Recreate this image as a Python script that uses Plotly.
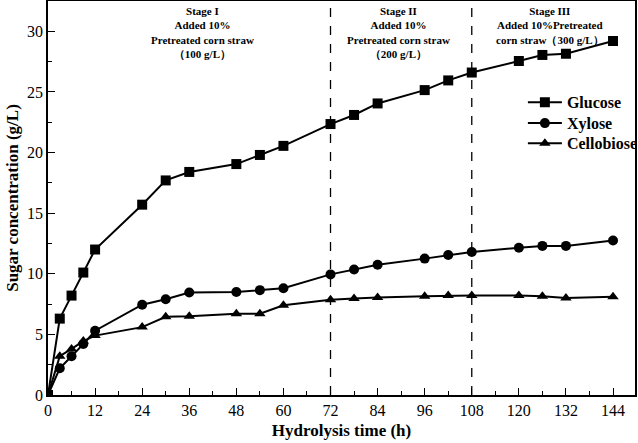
import plotly.graph_objects as go

time_h = [0, 3, 6, 9, 12, 24, 30, 36, 48, 54, 60, 72, 78, 84, 96, 102, 108, 120, 126, 132, 144]
glucose = [0, 6.3, 8.2, 10.1, 12.0, 15.7, 17.7, 18.4, 19.05, 19.8, 20.55, 22.35, 23.1, 24.05,
           25.15, 25.95, 26.6, 27.55, 28.05, 28.15, 29.2]
xylose = [0, 2.2, 3.2, 4.2, 5.3, 7.45, 7.9, 8.45, 8.5, 8.65, 8.8, 9.95, 10.35, 10.75,
          11.25, 11.55, 11.8, 12.15, 12.3, 12.3, 12.75]
cellobiose = [0, 3.2, 3.8, 4.45, 4.9, 5.6, 6.45, 6.5, 6.7, 6.7, 7.4, 7.85, 7.95, 8.05,
              8.15, 8.2, 8.2, 8.2, 8.15, 8.0, 8.1]
stage_bounds = [72, 108]
stage_x = [39.5, 89.2, 128]
stage_text = [
    "Stage I<br>Added 10%<br>Pretreated corn straw<br>（100 g/L）",
    "Stage II<br>Added 10%<br>Pretreated corn straw<br>（200 g/L）",
    "Stage III<br>Added 10%Pretreated<br>corn straw（300 g/L）",
]

FONT = "Liberation Serif"
legend_font = dict(family=FONT, size=16, color="black", weight="bold")

fig = go.Figure()
series = [("Glucose", glucose, "square", "legend", 0.786),
          ("Xylose", xylose, "circle", "legend2", 0.733),
          ("Cellobiose", cellobiose, "triangle-up", "legend3", 0.682)]
legends = {}
for name, vals, sym, lg, ly in series:
    fig.add_trace(go.Scatter(x=time_h, y=vals, name=name, mode="lines+markers", legend=lg,
                             line=dict(color="black", width=2),
                             marker=dict(symbol=sym, size=10, color="black")))
    legends[lg] = dict(x=0.809, y=ly, xanchor="left", yanchor="top", font=legend_font,
                       bgcolor="rgba(0,0,0,0)", itemwidth=34)

for b in stage_bounds:
    fig.add_shape(type="line", x0=b, x1=b, y0=0, y1=1, yref="paper",
                  line=dict(color="black", width=1.3, dash="dash"))

for sx, t in zip(stage_x, stage_text):
    fig.add_annotation(x=sx, y=1, yref="paper", yanchor="top", text=t, showarrow=False,
                       font=dict(family=FONT, size=11, color="black", weight="bold"),
                       align="center", yshift=-2)

fig.update_layout(
    width=638, height=443,
    margin=dict(l=48, r=3, t=1, b=48, autoexpand=False),
    plot_bgcolor="white", paper_bgcolor="white",
    font=dict(family=FONT, color="black"),
    showlegend=True,
    **legends,
)
fig.update_xaxes(range=[0, 149.6], tickvals=list(range(0, 145, 12)), automargin=False,
                 minor=dict(dtick=6, ticks="inside", ticklen=4, tickcolor="black"),
                 ticks="inside", ticklen=7, tickwidth=1.3, tickcolor="black",
                 showline=True, linecolor="black", linewidth=1.5, mirror=True,
                 showgrid=False, zeroline=False,
                 tickfont=dict(family=FONT, size=16, color="black"),
                 title=dict(text="Hydrolysis time (h)", standoff=6,
                            font=dict(family=FONT, size=17, color="black", weight="bold")))
fig.update_yaxes(range=[0, 32.5], dtick=5, automargin=False,
                 minor=dict(dtick=2.5, ticks="inside", ticklen=4, tickcolor="black"),
                 ticks="inside", ticklen=7, tickwidth=1.3, tickcolor="black",
                 showline=True, linecolor="black", linewidth=1.5, mirror=True,
                 showgrid=False, zeroline=False,
                 tickfont=dict(family=FONT, size=16, color="black"),
                 title=dict(text="Sugar concentration (g/L)", standoff=4,
                            font=dict(family=FONT, size=17, color="black", weight="bold")))

fig.write_html("out.html", config={"displayModeBar": False},
               post_script="document.body.style.margin='0';")
